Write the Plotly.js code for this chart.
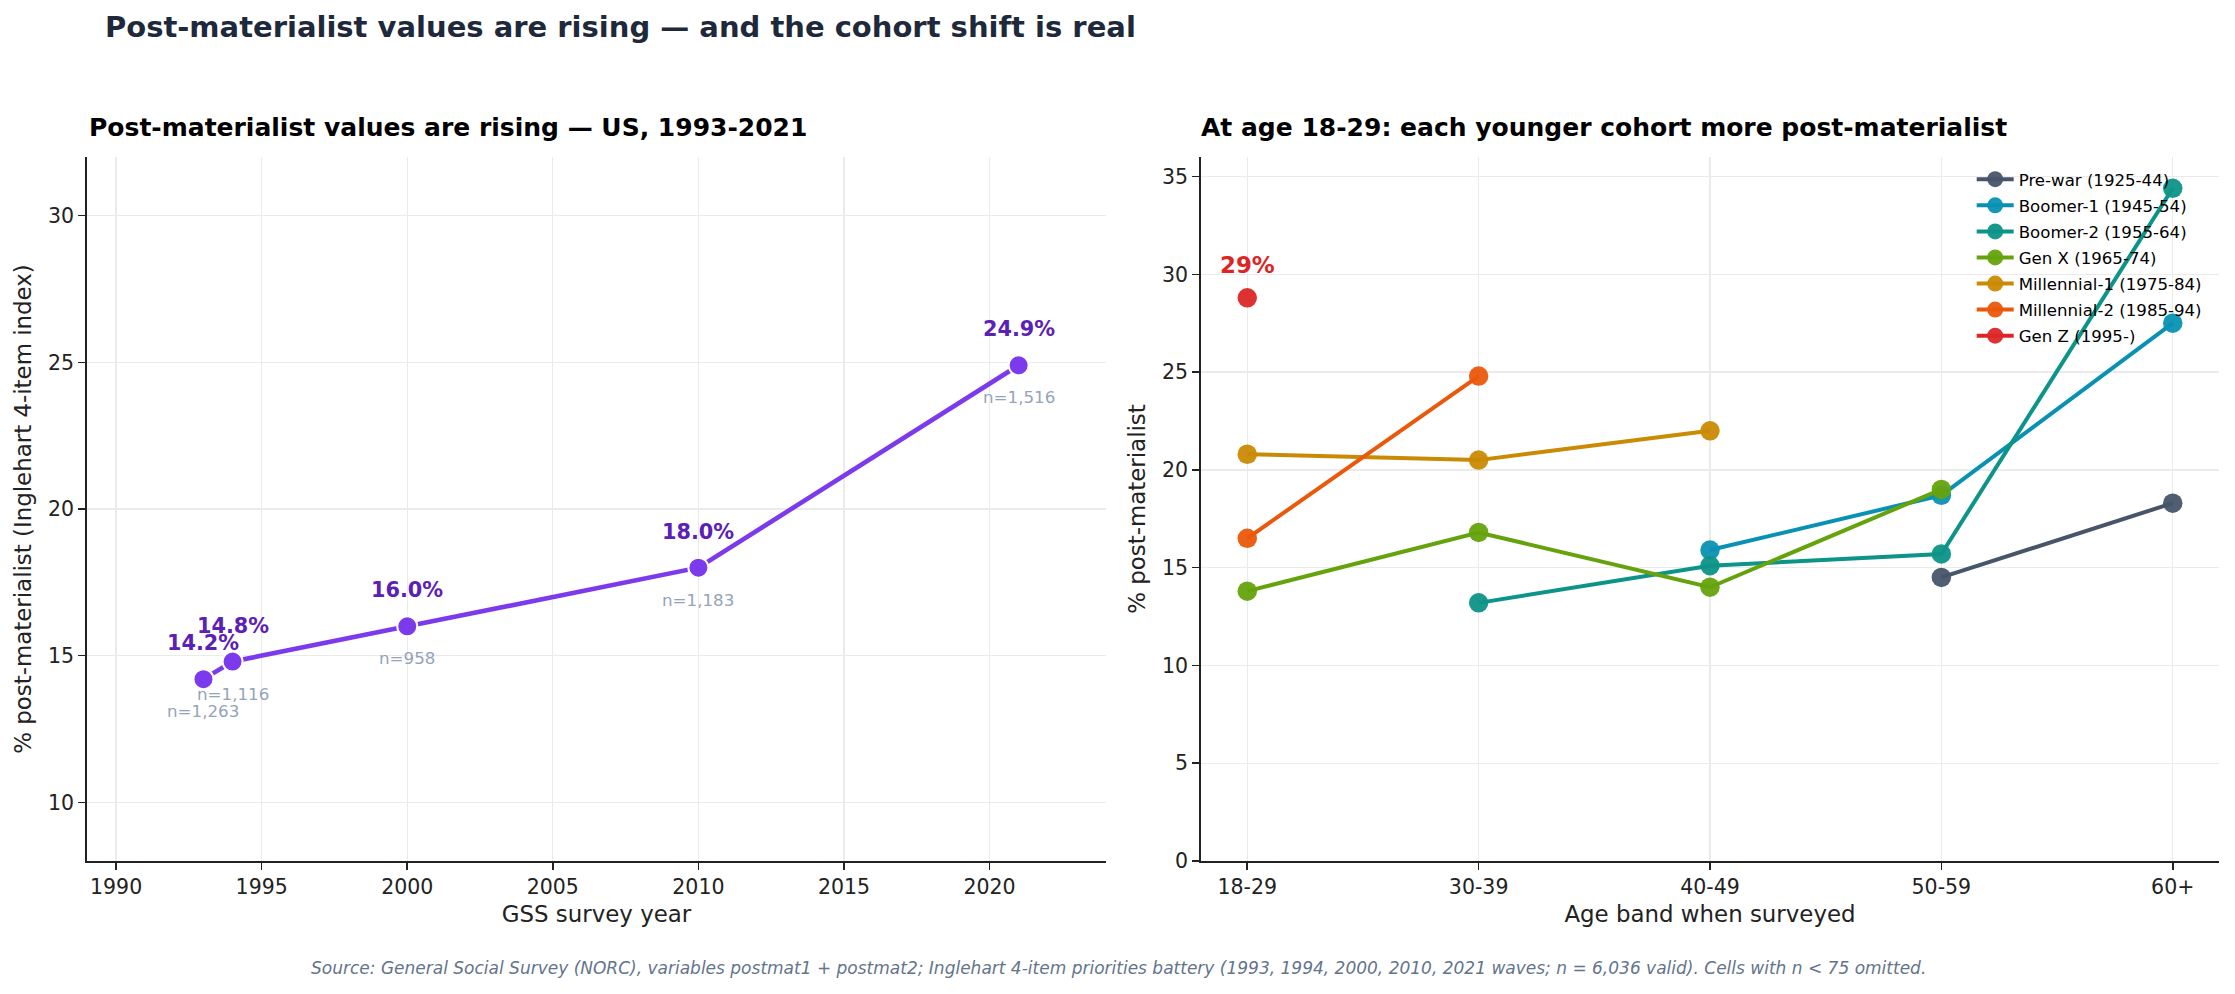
<!DOCTYPE html>
<html>
<head>
<meta charset="utf-8">
<script src="https://cdn.plot.ly/plotly-3.0.1.min.js"></script>
<style>
  html, body { margin: 0; padding: 0; background: #ffffff; }
  #chart { width: 2235px; height: 994px; }
</style>
</head>
<body>
<div id="chart"></div>
<script>
// GSS survey waves and the share scoring post-materialist on the 4-item index
const surveyYears = [1993, 1994, 2000, 2010, 2021];
const postMatPct = [14.2, 14.8, 16.0, 18.0, 24.9];
const waveN = [1263, 1116, 958, 1183, 1516];

// Cohort view: % post-materialist by age band when surveyed
const ageBands = ['18-29', '30-39', '40-49', '50-59', '60+'];
const cohortNames = [
  'Pre-war (1925-44)',
  'Boomer-1 (1945-54)',
  'Boomer-2 (1955-64)',
  'Gen X (1965-74)',
  'Millennial-1 (1975-84)',
  'Millennial-2 (1985-94)',
  'Gen Z (1995-)'
];
const preWar      = [null, null, null, 14.5, 18.3];
const boomer1     = [null, null, 15.9, 18.7, 27.5];
const boomer2     = [null, 13.2, 15.1, 15.7, 34.4];
const genX        = [13.8, 16.8, 14.0, 19.0, null];
const millennial1 = [20.8, 20.5, 22.0, null, null];
const millennial2 = [16.5, 24.8, null, null, null];
const genZ        = [28.8, null, null, null, null];
const cohortValues = [preWar, boomer1, boomer2, genX, millennial1, millennial2, genZ];

const cohortColors = ['#475569', '#0891b2', '#0d9488', '#65a30d', '#ca8a04', '#ea580c', '#dc2626'];

const FONT = 'DejaVu Sans, Verdana, sans-serif';
const INK = '#222222';
const GRID = '#ebebeb';

const traces = [];

// Left panel: national trend
traces.push({
  type: 'scatter',
  mode: 'lines+markers',
  x: surveyYears,
  y: postMatPct,
  xaxis: 'x', yaxis: 'y',
  showlegend: false,
  line: { color: '#7c3aed', width: 4.6 },
  marker: { color: '#7c3aed', size: 20, line: { color: '#ffffff', width: 2 } },
  hoverinfo: 'x+y'
});

// Right panel: one line per birth cohort
cohortNames.forEach((name, i) => {
  traces.push({
    type: 'scatter',
    mode: 'lines+markers',
    name: name,
    legendgroup: 'c' + i,
    x: ageBands,
    y: cohortValues[i],
    xaxis: 'x2', yaxis: 'y2',
    connectgaps: false,
    line: { color: cohortColors[i], width: 4 },
    marker: { color: cohortColors[i], size: 19.5, opacity: 0.95 }
  });
});

const annotations = [];

// Value and sample-size labels for each survey wave
surveyYears.forEach((yr, i) => {
  annotations.push({
    xref: 'x', yref: 'y', x: yr, y: postMatPct[i],
    text: postMatPct[i].toFixed(1) + '%',
    showarrow: false, yshift: 36, xanchor: 'center', yanchor: 'middle',
    font: { family: FONT, size: 20.8, color: '#5b21b6', weight: 'bold' }
  });
  annotations.push({
    xref: 'x', yref: 'y', x: yr, y: postMatPct[i],
    text: 'n=' + waveN[i].toLocaleString('en-US'),
    showarrow: false, yshift: -32, xanchor: 'center', yanchor: 'middle',
    font: { family: FONT, size: 16.7, color: '#94a3b8' }
  });
});

// Callout for the youngest cohort
annotations.push({
  xref: 'x2', yref: 'y2', x: ageBands[0], y: genZ[0],
  text: Math.round(genZ[0]) + '%',
  showarrow: false, yshift: 33, xanchor: 'center', yanchor: 'middle',
  font: { family: FONT, size: 22.9, color: '#dc2626', weight: 'bold' }
});

// Panel titles
annotations.push({
  xref: 'paper', yref: 'paper', x: 0, y: 1.0426, xanchor: 'left', yanchor: 'middle',
  text: 'Post-materialist values are rising — US, 1993-2021', showarrow: false,
  font: { family: FONT, size: 25, color: '#000000', weight: 'bold' }
});
annotations.push({
  xref: 'paper', yref: 'paper', x: 0.5217, y: 1.0426, xanchor: 'left', yanchor: 'middle',
  text: 'At age 18-29: each younger cohort more post-materialist', showarrow: false,
  font: { family: FONT, size: 25, color: '#000000', weight: 'bold' }
});

// Source note
annotations.push({
  xref: 'paper', yref: 'paper', x: 0.4836, y: -0.152, xanchor: 'center', yanchor: 'middle',
  text: 'Source: General Social Survey (NORC), variables postmat1 + postmat2; Inglehart 4-item priorities battery (1993, 1994, 2000, 2010, 2021 waves; n = 6,036 valid). Cells with n < 75 omitted.',
  showarrow: false,
  font: { family: FONT, size: 17, color: '#64748b', style: 'italic' }
});

const axisCommon = {
  showline: true, linecolor: INK, linewidth: 1.8,
  ticks: 'outside', ticklen: 7, tickwidth: 1.6, tickcolor: INK,
  showgrid: true, gridcolor: GRID, gridwidth: 1.3,
  zeroline: false, mirror: false,
  tickfont: { family: FONT, size: 20.5, color: INK },
  automargin: false
};

const layout = {
  width: 2235, height: 994,
  paper_bgcolor: '#ffffff', plot_bgcolor: '#ffffff',
  font: { family: FONT, color: INK },
  margin: { l: 87, r: 16, t: 157, b: 133, pad: 0 },
  title: {
    text: 'Post-materialist values are rising — and the cohort shift is real',
    xref: 'container', yref: 'container',
    x: 105 / 2235, xanchor: 'left', y: 1 - 27 / 994, yanchor: 'middle',
    font: { family: FONT, size: 29, color: '#1e293b', weight: 'bold' }
  },
  showlegend: true,
  legend: {
    x: 0.884, y: 0.993, xanchor: 'left', yanchor: 'top',
    bgcolor: 'rgba(0,0,0,0)', borderwidth: 0,
    itemwidth: 37, tracegroupgap: 1.5,
    font: { family: FONT, size: 16.6, color: '#000000' }
  },
  xaxis: Object.assign({}, axisCommon, {
    domain: [0, 0.47795], range: [1989, 2024],
    tickvals: [1990, 1995, 2000, 2005, 2010, 2015, 2020],
    title: { text: 'GSS survey year', standoff: 7, font: { family: FONT, size: 22.9, color: INK } },
    anchor: 'y'
  }),
  yaxis: Object.assign({}, axisCommon, {
    domain: [0, 1], range: [8, 32],
    tickvals: [10, 15, 20, 25, 30],
    title: { text: '% post-materialist (Inglehart 4-item index)', standoff: 10, font: { family: FONT, size: 22.9, color: INK } },
    anchor: 'x'
  }),
  xaxis2: Object.assign({}, axisCommon, {
    domain: [0.52251, 1], type: 'category',
    categoryorder: 'array', categoryarray: ageBands,
    range: [-0.2, 4.2],
    title: { text: 'Age band when surveyed', standoff: 7, font: { family: FONT, size: 22.9, color: INK } },
    anchor: 'y2'
  }),
  yaxis2: Object.assign({}, axisCommon, {
    domain: [0, 1], range: [0, 36],
    tickvals: [0, 5, 10, 15, 20, 25, 30, 35],
    title: { text: '% post-materialist', standoff: 10, font: { family: FONT, size: 22.9, color: INK } },
    anchor: 'x2'
  }),
  annotations: annotations
};

Plotly.newPlot('chart', traces, layout, { displayModeBar: false, staticPlot: true });
</script>
</body>
</html>
